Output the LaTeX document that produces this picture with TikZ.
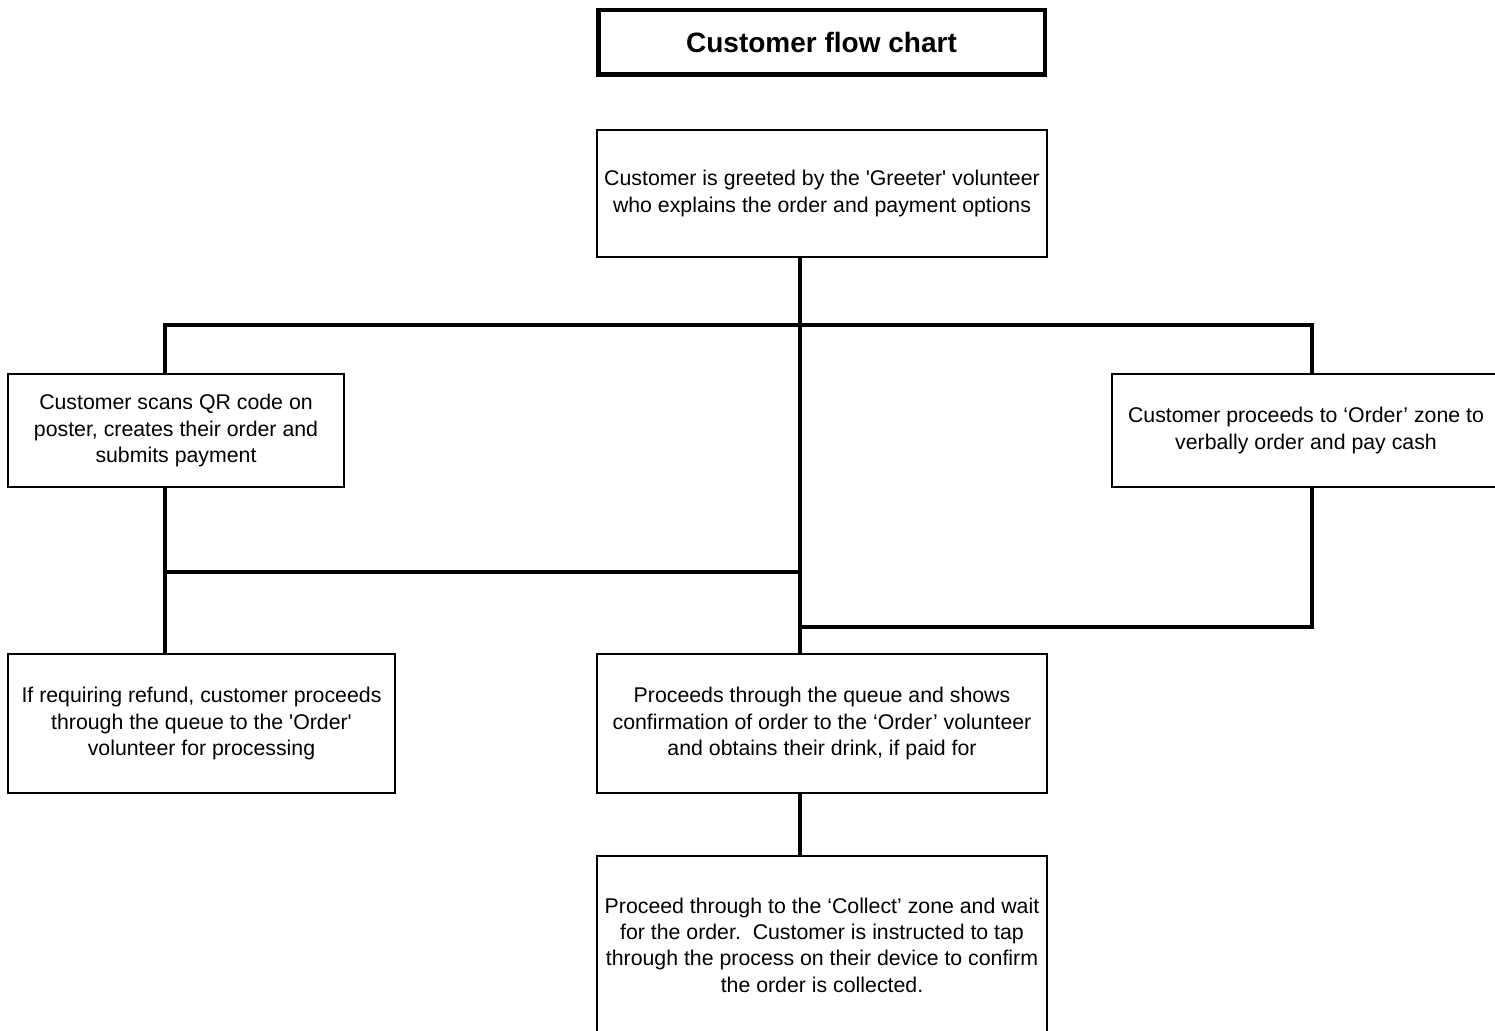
\documentclass[tikz,border=0pt]{standalone}
\usepackage{fontspec}
\setmainfont{Liberation Sans}
\begin{document}
\begin{tikzpicture}[x=1pt,y=-1pt,
  box/.style={draw, line width=1.4pt, inner sep=0pt, align=center,
    font=\fontsize{21.3}{26.4}\selectfont},
  titlebox/.style={draw, line width=4.5pt, inner sep=0pt, align=center,
    font=\fontsize{28}{32}\selectfont\bfseries},
  conn/.style={line width=4pt, line join=miter}]
\useasboundingbox (0,0) rectangle (1495,1030);
\clip (0,0) rectangle (1495,1030);
\fill[white] (0,0) rectangle (1495,1030);

\node[titlebox, minimum width=446.5pt, minimum height=64.5pt] (title) at (821.5,42.5) {Customer flow chart};

\node[box, minimum width=450pt, minimum height=127pt] (greeter) at (822,193.5)
  {Customer is greeted by the \textquotesingle Greeter\textquotesingle\ volunteer\\who explains the order and payment options};
\node[box, minimum width=336pt, minimum height=113pt] (qr) at (176,430.5)
  {Customer scans QR code on\\poster, creates their order and\\submits payment};
\node[box, minimum width=388pt, minimum height=113pt] (cash) at (1306,430.5)
  {Customer proceeds to ‘Order’ zone to\\verbally order and pay cash};
\node[box, minimum width=387pt, minimum height=139pt] (refund) at (201.5,723.5)
  {If requiring refund, customer proceeds\\through the queue to the \textquotesingle Order\textquotesingle\\volunteer for processing};
\node[box, minimum width=450pt, minimum height=139pt] (queue) at (822,723.5)
  {Proceeds through the queue and shows\\confirmation of order to the ‘Order’ volunteer\\and obtains their drink, if paid for};
\node[box, minimum width=450pt, minimum height=178pt] (collect) at (822,945)
  {Proceed through to the ‘Collect’ zone and wait\\for the order.\ \ Customer is instructed to tap\\through the process on their device to confirm\\the order is collected.};

\coordinate (J1) at (800,325);
\coordinate (JL) at (165,325);
\coordinate (JR) at (1312,325);
\coordinate (J2) at (165,572);
\coordinate (J3) at (800,572);
\coordinate (J4) at (800,627);
\coordinate (J5) at (1312,627);

\draw[conn] (greeter.south -| J1) -- (queue.north -| J1);
\draw[conn] (qr.north -| JL) -- (JL) -- (JR) -- (cash.north -| JR);
\draw[conn] (qr.south -| JL) -- (refund.north -| JL);
\draw[conn] (J2) -- (J3);
\draw[conn] (cash.south -| JR) -- (J5) -- (J4);
\draw[conn] (queue.south -| J1) -- (collect.north -| J1);
\end{tikzpicture}
\end{document}
